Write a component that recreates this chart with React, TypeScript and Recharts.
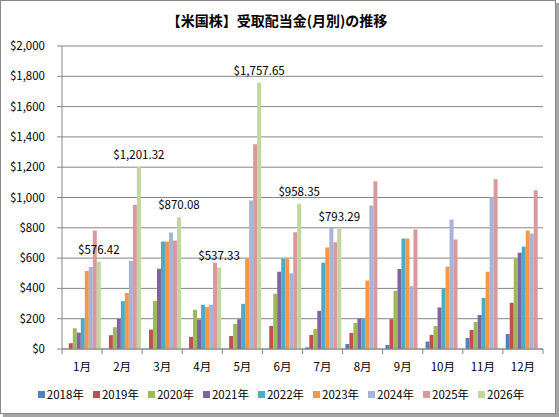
import { BarChart, Bar, XAxis, YAxis, CartesianGrid, LabelList } from "recharts";

const FONT = "'Noto Sans CJK JP', 'Noto Sans', sans-serif";

const months = ["1月", "2月", "3月", "4月", "5月", "6月", "7月", "8月", "9月", "10月", "11月", "12月"];

const years = ["2018年", "2019年", "2020年", "2021年", "2022年", "2023年", "2024年", "2025年", "2026年"];
const colors = ["#4f81bd", "#c0504d", "#9bbb59", "#8064a2", "#4bacc6", "#f79646", "#a5b4da", "#d99a9e", "#c3d69b"];

const y2018 = [null, null, null, null, null, null, 11, 33, 27, 49, 73, 99];
const y2019 = [38, 91, 128, 80, 86, 152, 93, 106, 197, 93, 126, 305];
const y2020 = [137, 144, 318, 259, 166, 365, 133, 172, 385, 152, 179, 597];
const y2021 = [108, 199, 530, 195, 197, 510, 252, 201, 528, 274, 225, 636];
const y2022 = [201, 316, 709, 292, 298, 597, 570, 201, 729, 396, 338, 676];
const y2023 = [515, 369, 709, 278, 597, 597, 670, 451, 729, 544, 510, 782];
const y2024 = [541, 581, 769, 292, 981, 499, 800, 948, 415, 855, 1001, 762];
const y2025 = [782, 950, 716, 570, 1352, 771, 705, 1107, 789, 723, 1120, 1048];
const y2026 = [576.42, 1201.32, 870.08, 537.33, 1757.65, 958.35, 793.29, null, null, null, null, null];

const yTicks = [0, 200, 400, 600, 800, 1000, 1200, 1400, 1600, 1800, 2000];

const series = [y2018, y2019, y2020, y2021, y2022, y2023, y2024, y2025, y2026];

const data = months.map((m, i) => {
  const row: any = { month: m };
  series.forEach((s, k) => {
    row["s" + k] = s[i];
  });
  return row;
});

const dollar = (v: number) => "$" + v.toLocaleString("en-US");
const dollar2 = (v: any) =>
  v == null ? "" : "$" + Number(v).toLocaleString("en-US", { minimumFractionDigits: 2, maximumFractionDigits: 2 });

// 目盛りはカテゴリの境目に描く（Excel風）
const XTick = (props: any) => {
  const { x, y, payload, index, visibleTicksCount } = props;
  const half = payload?.offset ?? 20;
  const last = index === (visibleTicksCount ?? months.length) - 1;
  return (
    <g>
      <line x1={x - half} y1={y} x2={x - half} y2={y + 5} stroke="#868686" />
      {last && <line x1={x + half} y1={y} x2={x + half} y2={y + 5} stroke="#868686" />}
      <text x={x} y={y + 22} textAnchor="middle" fontSize={11.5} fill="#000" fontFamily={FONT}>
        {payload.value}
      </text>
    </g>
  );
};

export default function App() {
  return (
    <div style={{ position: "absolute", left: 0, top: 0, width: 559, height: 417, background: "#fff", fontFamily: FONT }}>
      <div
        style={{
          position: "absolute",
          left: 0,
          top: 0,
          width: 556,
          height: 414,
          border: "1px solid #888",
          boxSizing: "border-box",
          boxShadow: "3px 3px 1px #a6a6a6",
        }}
      />
      <div
        style={{
          position: "absolute",
          top: 11,
          left: 0,
          width: 554,
          textAlign: "center",
          fontSize: 14,
          fontWeight: "bold",
          lineHeight: "18px",
        }}
      >
        【米国株】受取配当金(月別)の推移
      </div>
      <div style={{ position: "absolute", left: 0, top: 0 }}>
        <BarChart
          width={559}
          height={417}
          data={data}
          margin={{ top: 46, right: 16, left: 0, bottom: 38 }}
          barCategoryGap="7%"
          barGap={0}
        >
          <CartesianGrid horizontal vertical={false} stroke="#868686" />
          <XAxis
            dataKey="month"
            height={30}
            axisLine={{ stroke: "#868686" }}
            tickLine={false}
            tickSize={0}
            tickMargin={0}
            interval={0}
            tick={<XTick />}
          />
          <YAxis
            width={62}
            domain={[0, 2000]}
            ticks={yTicks}
            interval={0}
            tickFormatter={dollar}
            axisLine={{ stroke: "#868686" }}
            tickLine={{ stroke: "#868686" }}
            tickSize={5}
            tickMargin={12}
            tick={{ fontSize: 11.5, fill: "#000", fontFamily: FONT }}
          />
          {years.map((y, k) => (
            <Bar key={y} dataKey={"s" + k} name={y} fill={colors[k]} isAnimationActive={false}>
              {k === years.length - 1 && (
                <LabelList
                  dataKey={"s" + k}
                  position="top"
                  offset={8}
                  formatter={dollar2}
                  style={{ fontSize: 11.5, fill: "#000", fontFamily: FONT }}
                />
              )}
            </Bar>
          ))}
        </BarChart>
      </div>
      <div
        style={{
          position: "absolute",
          top: 386,
          left: 0,
          width: 562,
          display: "flex",
          justifyContent: "center",
          gap: 9,
          fontSize: 11.5,
          lineHeight: "16px",
        }}
      >
        {years.map((y, k) => (
          <div key={y} style={{ display: "flex", alignItems: "center" }}>
            <span style={{ width: 7, height: 7, background: colors[k], marginRight: 2, display: "inline-block" }} />
            <span>{y}</span>
          </div>
        ))}
      </div>
    </div>
  );
}
